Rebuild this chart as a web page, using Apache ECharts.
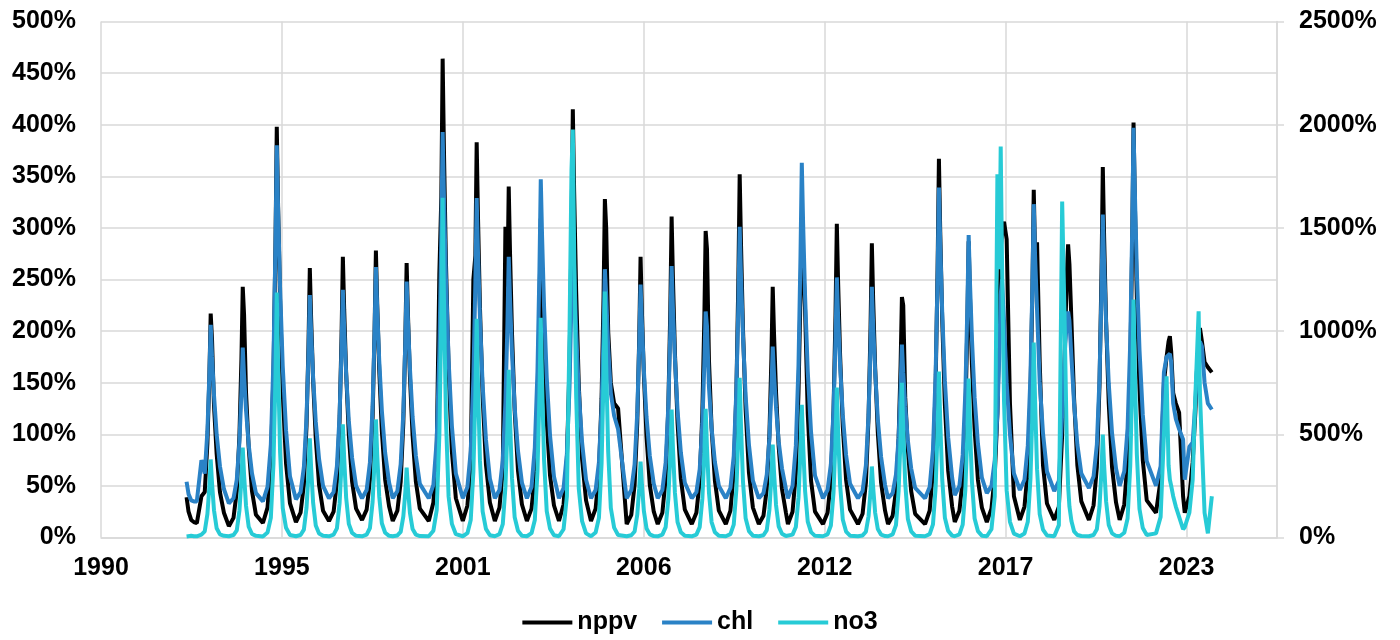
<!DOCTYPE html>
<html><head><meta charset="utf-8">
<script src="https://cdn.jsdelivr.net/npm/echarts@6/dist/echarts.min.js"></script>
<style>html,body{margin:0;padding:0;background:#fff}#c{width:1400px;height:640px}</style>
</head><body><div id="c"></div>
<script>
const seriesNames = ['nppv', 'chl', 'no3'];
const xTickLabels = ['1990', '1995', '2001', '2006', '2012', '2017', '2023'];
const axisStartYear = 1990.41;   // decimal year at the x-axis minimum
const tickStepDays = 2000;
const axisSpanDays = 13000;

// decimal-year date of each annual bloom, and the sampling offsets (years) around it
const peakDates = [1993.73, 1994.70, 1995.73, 1996.73, 1997.73, 1998.73, 1999.66, 2000.75, 2001.78, 2002.75,
  2003.72, 2004.69, 2005.66, 2006.74, 2007.68, 2008.71, 2009.74, 2010.74, 2011.62, 2012.68,
  2013.74, 2014.65, 2015.77, 2016.67, 2017.64, 2018.64, 2019.68, 2020.73, 2021.66, 2022.76, 2023.63];
const offsets = [-0.42, -0.28, -0.18, -0.1, -0.04, 0, 0.04, 0.1, 0.18, 0.28, 0.4];

// first samples of the record (before the first sampled window)
const leadDates = [1993.0, 1993.06, 1993.14, 1993.22];
const leadNppv = [39, 25, 17, 15];
const leadChl = [54, 42, 36, 35];
const leadNo3 = [5, 10, 8, 6];

// nppv (%), one row per year, values at the offsets above
const nppv = [
  [14, 40, 44, 91, 156, 217, 192, 128, 81, 44, 24],
  [11, 19, 45, 99, 173, 243, 216, 140, 87, 45, 22],
  [14, 29, 72, 160, 283, 398, 321, 229, 141, 72, 33],
  [15, 24, 51, 108, 187, 261, 212, 152, 96, 51, 26],
  [16, 25, 54, 113, 195, 272, 221, 159, 100, 54, 28],
  [17, 27, 56, 116, 200, 278, 226, 163, 103, 56, 30],
  [16, 26, 54, 111, 191, 266, 216, 156, 99, 54, 28],
  [16, 34, 83, 255, 330, 464, 374, 267, 164, 83, 38],
  [16, 31, 71, 250, 273, 383, 310, 222, 137, 71, 34],
  [16, 29, 65, 301, 243, 340, 275, 197, 123, 65, 32],
  [16, 28, 60, 127, 221, 309, 250, 180, 113, 60, 31],
  [16, 32, 76, 168, 295, 415, 335, 239, 148, 76, 36],
  [16, 28, 63, 135, 234, 328, 300, 200, 150, 130, 125],
  [13, 22, 51, 111, 194, 272, 220, 158, 98, 51, 25],
  [13, 24, 57, 126, 221, 311, 251, 179, 111, 57, 27],
  [13, 24, 55, 121, 212, 297, 280, 172, 106, 55, 26],
  [13, 26, 63, 141, 250, 352, 284, 202, 124, 63, 29],
  [13, 21, 47, 100, 174, 243, 197, 141, 88, 47, 24],
  [13, 25, 62, 140, 235, 300, 270, 220, 120, 55, 25],
  [13, 24, 56, 123, 216, 304, 246, 176, 108, 56, 27],
  [13, 23, 53, 116, 203, 285, 230, 165, 102, 53, 26],
  [13, 21, 45, 96, 167, 233, 225, 136, 85, 45, 23],
  [13, 26, 65, 147, 261, 367, 296, 211, 129, 65, 30],
  [15, 26, 56, 118, 205, 287, 233, 167, 105, 56, 29],
  [15, 28, 60, 120, 210, 280, 295, 306, 289, 130, 40],
  [17, 30, 65, 139, 241, 337, 275, 286, 170, 70, 33],
  [17, 30, 100, 180, 255, 284, 265, 210, 135, 70, 35],
  [17, 31, 68, 147, 256, 359, 291, 209, 130, 68, 34],
  [17, 32, 75, 163, 287, 402, 325, 233, 144, 75, 36],
  [24, 56, 150, 175, 190, 195, 180, 140, 130, 121, 40],
  [24, 40, 73, 121, 170, 180, 203, 190, 170, 165, 160]
];

// chl (%)
const chl = [
  [35, 75, 62, 103, 158, 206, 175, 138, 100, 69, 47],
  [33, 38, 56, 93, 141, 184, 157, 123, 90, 62, 43],
  [35, 49, 90, 173, 283, 380, 318, 242, 166, 104, 59],
  [37, 44, 68, 116, 179, 235, 199, 155, 112, 76, 50],
  [38, 44, 69, 118, 183, 240, 203, 158, 113, 77, 50],
  [38, 46, 73, 127, 199, 262, 221, 172, 123, 82, 53],
  [38, 45, 71, 121, 189, 248, 210, 164, 117, 79, 52],
  [38, 51, 94, 179, 293, 393, 329, 251, 172, 108, 62],
  [38, 49, 84, 154, 247, 329, 276, 212, 148, 95, 57],
  [38, 46, 75, 131, 206, 272, 230, 178, 126, 84, 53],
  [38, 49, 87, 161, 260, 347, 291, 223, 155, 99, 59],
  [38, 48, 81, 146, 234, 310, 261, 201, 141, 92, 56],
  [38, 46, 73, 126, 198, 260, 235, 185, 140, 118, 105],
  [38, 46, 71, 121, 187, 245, 208, 162, 117, 79, 52],
  [38, 46, 73, 127, 200, 263, 222, 173, 123, 82, 53],
  [38, 44, 66, 110, 168, 219, 205, 146, 106, 73, 50],
  [38, 48, 79, 143, 227, 301, 253, 195, 137, 90, 55],
  [38, 43, 61, 96, 144, 185, 158, 126, 93, 67, 47],
  [38, 50, 89, 167, 272, 363, 304, 233, 161, 102, 60],
  [38, 46, 71, 123, 192, 252, 213, 166, 119, 80, 52],
  [38, 45, 70, 119, 185, 243, 206, 161, 115, 78, 51],
  [38, 43, 61, 97, 145, 187, 160, 127, 94, 67, 48],
  [38, 49, 85, 158, 254, 339, 285, 218, 152, 97, 58],
  [41, 50, 80, 141, 222, 293, 247, 192, 136, 91, 58],
  [43, 50, 75, 120, 180, 235, 250, 210, 150, 100, 62],
  [46, 56, 89, 156, 245, 323, 273, 220, 151, 101, 64],
  [45, 55, 120, 180, 210, 219, 210, 175, 130, 90, 62],
  [48, 59, 90, 154, 239, 313, 265, 207, 149, 101, 67],
  [50, 64, 106, 189, 300, 397, 335, 258, 182, 119, 74],
  [50, 69, 160, 175, 176, 178, 170, 130, 115, 105, 95],
  [56, 88, 92, 130, 170, 180, 190, 185, 150, 130, 124]
];

// no3 (%), right axis
const no3 = [
  [6, 14, 30, 113, 246, 378, 265, 132, 45, 15, 8],
  [6, 12, 35, 131, 283, 436, 305, 153, 52, 17, 8],
  [5, 24, 95, 356, 772, 1187, 831, 415, 142, 47, 12],
  [6, 12, 38, 144, 312, 480, 336, 168, 58, 19, 8],
  [6, 14, 44, 164, 356, 548, 384, 192, 66, 22, 8],
  [6, 14, 46, 172, 372, 572, 400, 200, 69, 23, 8],
  [6, 10, 27, 102, 220, 339, 237, 119, 41, 14, 7],
  [6, 33, 132, 494, 1070, 1646, 1152, 576, 198, 66, 16],
  [6, 21, 85, 318, 689, 1060, 742, 371, 127, 42, 11],
  [6, 16, 65, 244, 528, 813, 569, 285, 98, 33, 9],
  [6, 21, 85, 320, 692, 1065, 746, 373, 128, 43, 11],
  [6, 40, 200, 1000, 1783, 1977, 1384, 692, 237, 79, 20],
  [6, 24, 95, 358, 775, 1192, 834, 417, 143, 48, 12],
  [6, 11, 29, 110, 239, 368, 258, 129, 44, 15, 7],
  [6, 14, 50, 186, 403, 620, 434, 217, 74, 25, 8],
  [6, 14, 50, 187, 406, 624, 437, 218, 75, 25, 8],
  [6, 16, 62, 232, 503, 774, 542, 271, 93, 31, 9],
  [6, 11, 36, 135, 293, 450, 315, 158, 54, 18, 7],
  [6, 14, 51, 193, 418, 643, 450, 225, 77, 26, 8],
  [6, 15, 58, 218, 473, 727, 509, 254, 87, 29, 9],
  [6, 10, 28, 103, 224, 344, 241, 120, 41, 14, 7],
  [6, 15, 60, 225, 488, 750, 525, 263, 90, 30, 9],
  [6, 16, 64, 241, 523, 804, 563, 281, 96, 32, 9],
  [6, 15, 62, 231, 501, 770, 539, 270, 92, 31, 9],
  [6, 40, 200, 1760, 1300, 1894, 1326, 663, 227, 76, 19],
  [6, 19, 76, 284, 614, 945, 662, 331, 113, 38, 10],
  [6, 60, 1628, 1000, 450, 250, 150, 80, 30, 12, 7],
  [6, 12, 40, 150, 324, 499, 349, 175, 60, 20, 8],
  [6, 23, 92, 346, 749, 1153, 807, 404, 138, 46, 12],
  [20, 100, 500, 781, 350, 280, 250, 200, 150, 100, 40],
  [50, 120, 280, 683, 925, 1096, 700, 440, 120, 20, 200]
];

const colors = ['#000000', '#2A82C6', '#27CBD6'];
const FONT = "'Liberation Sans', Arial, sans-serif";

function toDays(y) { return (y - axisStartYear) * 365.25; }
function build(lead, rows) {
  const pts = [];
  leadDates.forEach((d, i) => pts.push([toDays(d), lead[i]]));
  peakDates.forEach((p, y) => offsets.forEach((o, k) => pts.push([toDays(p + o), rows[y][k]])));
  return pts;
}
const pct = v => v + '%';

const labelStyle = { color: '#000', fontSize: 25, fontWeight: 'bold', fontFamily: FONT };
const gridColor = '#d9d9d9';

const chart = echarts.init(document.getElementById('c'), null, { renderer: 'canvas' });
chart.setOption({
  animation: false,
  backgroundColor: '#fff',
  grid: { left: 101, right: 123, top: 21.5, bottom: 102.5 },
  legend: {
    data: seriesNames, left: 'center', top: 610, icon: 'rect',
    itemWidth: 50, itemHeight: 4, itemGap: 25, padding: 0,
    textStyle: { color: '#000', fontSize: 25, fontWeight: 'bold', fontFamily: FONT }
  },
  xAxis: {
    type: 'value', min: 0, max: axisSpanDays, interval: tickStepDays,
    axisLine: { show: true, lineStyle: { color: gridColor, width: 1.5 } },
    axisTick: { show: false },
    splitLine: { show: true, lineStyle: { color: gridColor, width: 1.5 } },
    axisLabel: Object.assign({
      margin: 18, showMaxLabel: false,
      formatter: v => (v % tickStepDays === 0 ? (xTickLabels[v / tickStepDays] || '') : '')
    }, labelStyle)
  },
  yAxis: [
    {
      type: 'value', min: 0, max: 500, interval: 50,
      axisLine: { show: false }, axisTick: { show: false },
      splitLine: { show: true, lineStyle: { color: gridColor, width: 1.5 } },
      axisLabel: Object.assign({ margin: 25, formatter: pct }, labelStyle)
    },
    {
      type: 'value', min: 0, max: 2500, interval: 500, position: 'right',
      axisLine: { show: true, lineStyle: { color: gridColor, width: 1.5 } },
      axisTick: { show: true, length: 7, lineStyle: { color: gridColor, width: 1.5 } },
      splitLine: { show: false },
      axisLabel: Object.assign({ margin: 22, formatter: pct }, labelStyle)
    }
  ],
  series: [
    { name: 'nppv', type: 'line', yAxisIndex: 0, data: build(leadNppv, nppv), showSymbol: false, symbol: 'none',
      lineStyle: { width: 4, color: colors[0] }, itemStyle: { color: colors[0] } },
    { name: 'chl', type: 'line', yAxisIndex: 0, data: build(leadChl, chl), showSymbol: false, symbol: 'none',
      lineStyle: { width: 4, color: colors[1] }, itemStyle: { color: colors[1] } },
    { name: 'no3', type: 'line', yAxisIndex: 1, data: build(leadNo3, no3), showSymbol: false, symbol: 'none',
      lineStyle: { width: 4, color: colors[2] }, itemStyle: { color: colors[2] } }
  ]
});
</script>
</body></html>
